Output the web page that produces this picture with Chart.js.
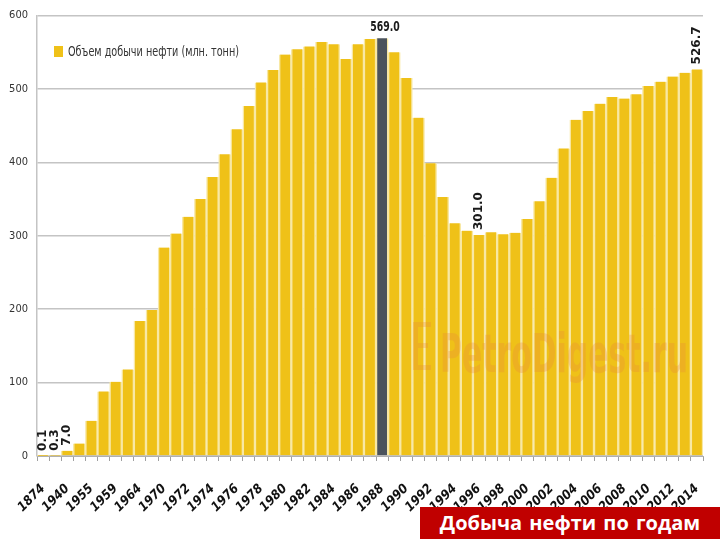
<!DOCTYPE html>
<html lang="ru">
<head>
    <meta charset="UTF-8">
    <title>Добыча нефти по годам</title>
    <script src="https://cdn.jsdelivr.net/npm/chart.js@4.4.0/dist/chart.umd.min.js"></script>
    <style>
        body {
            margin: 0;
            padding: 0;
            background: #fff;
        }
        .wrap {
            position: relative;
            width: 720px;
            height: 540px;
        }
        .badge {
            position: absolute;
            left: 420px;
            top: 507px;
            width: 300px;
            height: 32px;
            background: #c00000;
            color: #fff;
            font: bold 20px 'Open Sans', 'DejaVu Sans', sans-serif;
            line-height: 32px;
            text-align: center;
            word-spacing: 2px;
        }
    </style>
</head>
<body>
<div class="wrap">
    <canvas id="oilChart"></canvas>
    <div class="badge">Добыча нефти по годам</div>
</div>

<script>
    // Годы (подписи показываются через один)
    const years = [
        '1874', '1913', '1940', '1950', '1955', '1958', '1959', '1960', '1964', '1965',
        '1970', '1971', '1972', '1973', '1974', '1975', '1976', '1977', '1978', '1979',
        '1980', '1981', '1982', '1983', '1984', '1985', '1986', '1987', '1988', '1989',
        '1990', '1991', '1992', '1993', '1994', '1995', '1996', '1997', '1998', '1999',
        '2000', '2001', '2002', '2003', '2004', '2005', '2006', '2007', '2008', '2009',
        '2010', '2011', '2012', '2013', '2014'
    ];

    // Объем добычи нефти, млн. тонн
    const output = [
        0.1, 0.3, 7.0, 17, 48, 88, 101, 118, 184, 199,
        284, 303, 326, 350, 380, 411, 445, 477, 509, 526,
        547, 554, 558, 564, 561, 541, 561, 568, 569.0, 550,
        515, 461, 399, 353, 317, 307, 301.0, 305, 302, 304,
        323, 347, 379, 419, 458, 470, 480, 489, 487, 493,
        504, 510, 517, 522, 526.7
    ];

    const yTicks = [0, 100, 200, 300, 400, 500, 600];

    // подписанные значения
    const peakYear = '1988';
    const verticalLabelYears = ['1874', '1913', '1940', '1996', '2014'];

    const yellow = '#efc118';
    const gray = '#4b535c';

    const barColors = years.map(y => y === peakYear ? gray : yellow);

    // узкий текст: шрифт сжат по горизонтали
    function narrowText(ctx, txt, x, y, sx) {
        ctx.save();
        ctx.translate(x, y);
        ctx.scale(sx, 1);
        ctx.fillText(txt, 0, 0);
        ctx.restore();
    }

    // Подписи значений, легенда и водяной знак
    const extrasPlugin = {
        id: 'extras',
        afterDatasetsDraw(chart) {
            const ctx = chart.ctx;
            const meta = chart.getDatasetMeta(0);

            // водяной знак
            ctx.save();
            ctx.fillStyle = 'rgba(232, 140, 60, 0.30)';
            ctx.font = "bold 54px 'DejaVu Sans', sans-serif";
            ctx.textBaseline = 'alphabetic';
            const w = ctx.measureText('PetroDigest.ru').width;
            narrowText(ctx, 'PetroDigest.ru', 440, 372, 248 / w);
            ctx.fillRect(413, 322, 5, 48);
            ctx.fillRect(418, 322, 13, 5);
            ctx.fillRect(418, 365, 13, 5);
            ctx.fillRect(418, 343, 10, 5);
            ctx.restore();

            ctx.save();
            ctx.fillStyle = '#1a1a1a';
            years.forEach((yr, i) => {
                const bar = meta.data[i];
                const txt = output[i].toFixed(1);
                if (yr === peakYear) {
                    ctx.font = "bold 14px 'DejaVu Sans Condensed', sans-serif";
                    ctx.textAlign = 'center';
                    ctx.textBaseline = 'bottom';
                    narrowText(ctx, txt, bar.x + 3, bar.y - 4, 0.74);
                } else if (verticalLabelYears.includes(yr)) {
                    ctx.save();
                    ctx.font = "bold 12px 'DejaVu Sans', sans-serif";
                    ctx.translate(bar.x, bar.y - 5);
                    ctx.rotate(-Math.PI / 2);
                    ctx.textAlign = 'left';
                    ctx.textBaseline = 'middle';
                    ctx.fillText(txt, 0, 0);
                    ctx.restore();
                }
            });
            ctx.restore();
        },
        afterDraw(chart) {
            const ctx = chart.ctx;
            ctx.save();
            ctx.fillStyle = yellow;
            ctx.fillRect(54, 46, 9, 11);
            ctx.fillStyle = '#333';
            ctx.font = "14px 'DejaVu Sans Condensed', sans-serif";
            ctx.textBaseline = 'middle';
            const label = chart.data.datasets[0].label;
            const w = ctx.measureText(label).width;
            narrowText(ctx, label, 68, 52, 171 / w);
            ctx.restore();
        }
    };

    const ctx = document.getElementById('oilChart').getContext('2d');

    const oilChart = new Chart(ctx, {
        type: 'bar',
        data: {
            labels: years,
            datasets: [{
                label: 'Объем добычи нефти (млн. тонн)',
                data: output,
                backgroundColor: barColors,
                borderColor: '#f8e8a4',
                borderWidth: { left: 1.5, right: 1.5, top: 0, bottom: 0 },
                borderSkipped: false,
                barPercentage: 1,
                categoryPercentage: 1
            }]
        },
        plugins: [extrasPlugin],
        options: {
            responsive: true,
            maintainAspectRatio: false,
            animation: false,
            layout: {
                padding: { top: 13, right: 17, left: 0, bottom: 0 }
            },
            plugins: {
                legend: { display: false },
                tooltip: { enabled: false }
            },
            scales: {
                x: {
                    afterFit(scale) {
                        scale.height = 84;
                        scale.paddingLeft = 0;
                        scale.paddingRight = 0;
                    },
                    grid: {
                        drawOnChartArea: false,
                        drawTicks: true,
                        tickLength: 5,
                        color: '#a0a0a0'
                    },
                    border: { color: '#b0b0b0' },
                    ticks: {
                        autoSkip: false,
                        maxRotation: 45,
                        minRotation: 45,
                        padding: 20,
                        color: '#111',
                        font: { family: "'DejaVu Sans Condensed', sans-serif", size: 13, weight: 'bold', style: 'italic' },
                        callback: (v, i) => (i % 2 === 0 ? years[i] : '')
                    }
                },
                y: {
                    min: 0,
                    max: 600,
                    afterFit(scale) { scale.width = 37; },
                    afterBuildTicks(scale) {
                        scale.ticks = yTicks.map(v => ({ value: v }));
                    },
                    grid: {
                        color: '#c4c4c4',
                        lineWidth: 1.5,
                        drawTicks: false
                    },
                    border: { color: '#c4c4c4', width: 1.5 },
                    ticks: {
                        padding: 9,
                        color: '#333',
                        font: { family: "'DejaVu Sans Condensed', sans-serif", size: 11 }
                    }
                }
            }
        }
    });
</script>
</body>
</html>
